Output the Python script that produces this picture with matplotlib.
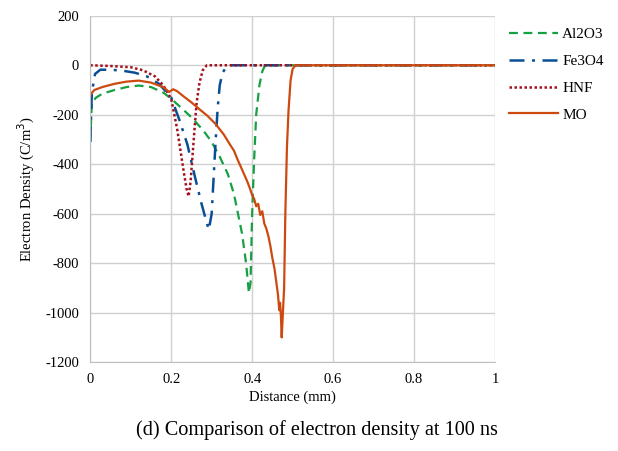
import numpy as np
import matplotlib
matplotlib.use("Agg")
import matplotlib.pyplot as plt

plt.rcParams['font.family'] = ['Liberation Serif', 'DejaVu Serif']
plt.rcParams['axes.unicode_minus'] = False

# Al2O3
al_x = [0, 0.004, 0.015, 0.03, 0.06, 0.09, 0.12, 0.15, 0.18, 0.2, 0.22, 0.25, 0.28, 0.3, 0.32,
        0.34, 0.355, 0.365, 0.375, 0.385, 0.392, 0.396, 0.4, 0.405, 0.41, 0.418, 0.425, 0.432, 1.0]
al_y = [-310, -150, -130, -115, -100, -88, -82, -88, -110, -135, -165, -210, -265, -310, -370,
        -440, -520, -600, -680, -800, -920, -880, -600, -380, -200, -80, -25, 0, 0]

# Fe3O4
fe_x = [0, 0.004, 0.012, 0.025, 0.05, 0.08, 0.11, 0.14, 0.17, 0.2, 0.22, 0.24, 0.26, 0.275,
        0.285, 0.293, 0.3, 0.305, 0.31, 0.315, 0.32, 0.327, 0.335, 0.345, 1.0]
fe_y = [-310, -110, -35, -18, -18, -22, -30, -45, -75, -130, -220, -320, -460, -560,
        -620, -665, -600, -450, -300, -170, -80, -30, -10, 0, 0]

# HNF
hnf_x = [0, 0.05, 0.1, 0.13, 0.16, 0.18, 0.2, 0.215, 0.23, 0.238, 0.243, 0.248, 0.253, 0.258,
         0.263, 0.27, 0.278, 0.288, 1.0]
hnf_y = [0, -3, -8, -20, -45, -80, -135, -260, -420, -500, -530, -470, -360, -250,
         -150, -70, -20, 0, 0]

# MO
mo_x = [0, 0.01, 0.03, 0.06, 0.09, 0.12, 0.15, 0.18, 0.195, 0.205, 0.215, 0.23, 0.25, 0.27,
        0.29, 0.31, 0.33, 0.345, 0.355, 0.365, 0.372, 0.38, 0.388, 0.395, 0.4, 0.405, 0.41,
        0.415, 0.42, 0.425, 0.43, 0.435, 0.44, 0.445, 0.45, 0.455, 0.46, 0.464, 0.467,
        0.469, 0.471, 0.473, 0.476, 0.479, 0.482, 0.486, 0.49, 0.495, 0.5, 0.507, 1.0]
mo_y = [-120, -100, -88, -75, -66, -62, -70, -88, -108, -97, -105, -125, -150, -178,
        -205, -238, -280, -320, -345, -385, -410, -440, -470, -500, -525, -540, -570,
        -560, -605, -590, -640, -660, -690, -730, -780, -820, -880, -930, -990,
        -960, -1010, -1100, -1000, -900, -600, -330, -180, -60, -15, 0, 0]

fig = plt.figure(figsize=(6.18, 4.51), dpi=100)
ax = fig.add_axes([0.146, 0.197, 0.655, 0.768])

ax.plot(al_x, al_y, color='#17a043', linestyle=(0, (4, 2.5)), linewidth=1.6, label='Al2O3')
ax.plot(fe_x, fe_y, color='#0a4f96', linestyle=(0, (6, 3, 1.2, 3)), linewidth=1.8, label='Fe3O4')
ax.plot(hnf_x, hnf_y, color='#a3111c', linestyle=(0, (1, 1)), linewidth=1.8, label='HNF')
ax.plot(mo_x, mo_y, color='#cc4a10', linestyle='-', linewidth=1.6, label='MO')

ax.set_xlim(0, 1)
ax.set_ylim(-1200, 200)
ax.set_xticks([0, 0.2, 0.4, 0.6, 0.8, 1.0])
ax.set_xticklabels(['0', '0.2', '0.4', '0.6', '0.8', '1'])
ax.set_yticks(np.arange(-1200, 201, 200))
ax.grid(True, color='#d0d0d0', linewidth=1.0)
ax.set_axisbelow(True)
for s in ['top', 'right']:
    ax.spines[s].set_visible(False)
for s in ['left', 'bottom']:
    ax.spines[s].set_color('#bfbfbf')
ax.tick_params(length=0, labelsize=10.5, pad=8)

ax.set_xlabel('Distance (mm)', fontsize=10.5, labelpad=3)
ax.set_ylabel('Electron Density (C/m$^3$)', fontsize=10.5, labelpad=6)

ax.legend(loc='upper left', bbox_to_anchor=(1.0, 1.005), frameon=False, fontsize=11,
          handlelength=3.2, labelspacing=0.85, handletextpad=0.3)

fig.text(0.513, 0.035, '(d) Comparison of electron density at 100 ns', ha='center', fontsize=14.6)

fig.savefig('out.png', dpi=100)
